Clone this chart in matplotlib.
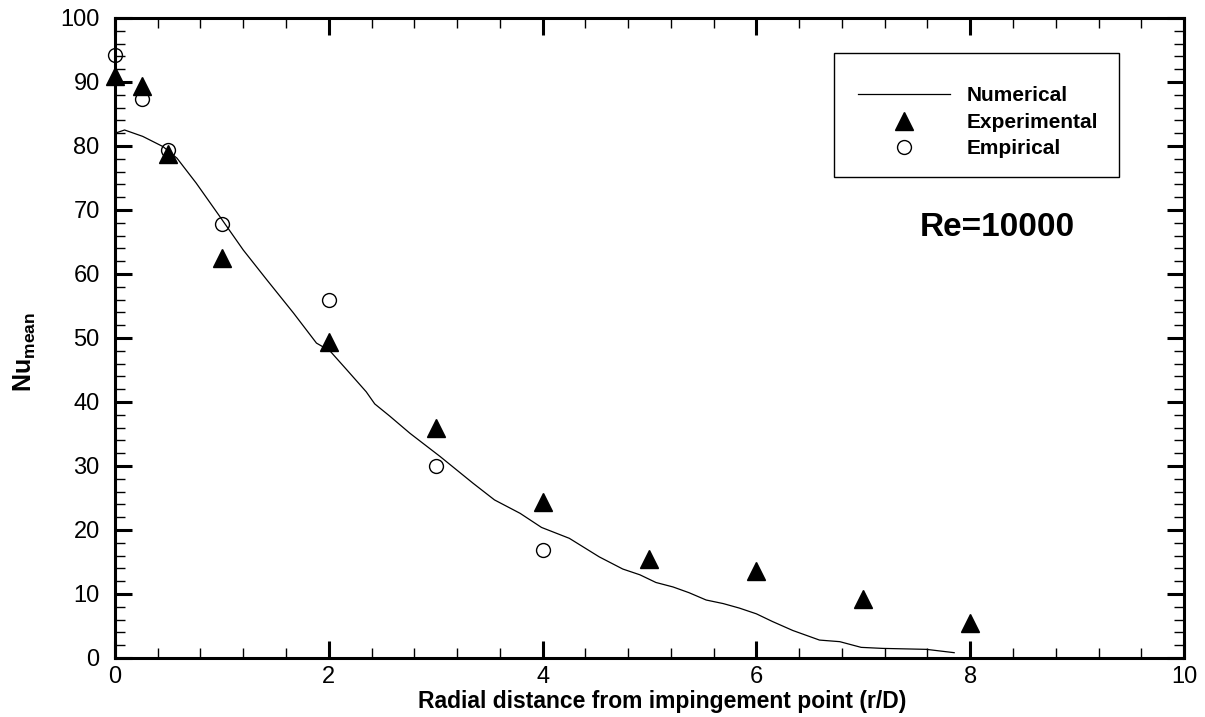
import matplotlib
matplotlib.use("Agg")
import matplotlib.pyplot as plt
from matplotlib.ticker import MultipleLocator
from matplotlib.patches import Rectangle

plt.rcParams['font.family'] = ['Liberation Sans', 'DejaVu Sans']
plt.rcParams['mathtext.fontset'] = 'custom'
plt.rcParams['mathtext.rm'] = 'Liberation Sans'
plt.rcParams['mathtext.bf'] = 'Liberation Sans:bold'

# Numerical (CFD) curve
num_x = [0.02, 0.09, 0.26, 0.45, 0.58, 0.76, 0.98, 1.20, 1.42, 1.67, 1.885, 2.01,
         2.17, 2.35, 2.43, 2.57, 2.76, 3.04, 3.35, 3.55, 3.79, 3.99, 4.25, 4.53,
         4.75, 4.91, 5.06, 5.22, 5.37, 5.53, 5.69, 5.84, 6.00, 6.15, 6.34, 6.59,
         6.78, 6.98, 7.18, 7.59, 7.85]
num_y = [82.1, 82.5, 81.5, 79.9, 78.1, 74.2, 69.0, 63.75, 59.1, 53.9, 49.2, 48.0,
         45.0, 41.6, 39.7, 37.8, 35.1, 31.5, 27.3, 24.7, 22.6, 20.4, 18.7, 15.8,
         13.9, 13.0, 11.8, 11.1, 10.2, 9.06, 8.5, 7.8, 6.9, 5.7, 4.3, 2.8,
         2.55, 1.66, 1.5, 1.35, 0.83]

# Experimental data
exp_x = [0, 0.25, 0.5, 1, 2, 3, 4, 5, 6, 7, 8]
exp_y = [90.9, 89.3, 78.8, 62.5, 49.3, 35.9, 24.3, 15.4, 13.6, 9.2, 5.5]

# Empirical correlation
emp_x = [0, 0.25, 0.5, 1, 2, 3, 4]
emp_y = [94.2, 87.3, 79.4, 67.8, 56.0, 30.0, 16.8]

fig = plt.figure(figsize=(12.05, 7.17), dpi=100)
ax = fig.add_axes([0.0954, 0.0823, 0.8872, 0.8926])

ax.plot(num_x, num_y, color='black', lw=0.9, label='Numerical')
ax.plot(exp_x, exp_y, linestyle='none', marker='^', color='black', markersize=12.5,
        label='Experimental', clip_on=False, zorder=4)
ax.plot(emp_x, emp_y, linestyle='none', marker='o', markerfacecolor='none',
        markeredgecolor='black', markeredgewidth=1.0, markersize=10,
        label='Empirical', clip_on=False, zorder=5)

ax.set_xlim(0, 10)
ax.set_ylim(0, 100)
ax.xaxis.set_major_locator(MultipleLocator(2))
ax.xaxis.set_minor_locator(MultipleLocator(0.4))
ax.yaxis.set_major_locator(MultipleLocator(10))
ax.yaxis.set_minor_locator(MultipleLocator(2))

for s in ax.spines.values():
    s.set_linewidth(2.2)

ax.tick_params(which='both', direction='in', top=True, right=True, labelsize=17)
ax.tick_params(which='major', length=12, width=2.2)
ax.tick_params(which='minor', length=7, width=1.0)
ax.tick_params(axis='x', which='major', pad=5.5)
ax.tick_params(axis='y', which='major', pad=11)

ax.set_xlabel('Radial distance from impingement point (r/D)', fontsize=16.5,
              fontweight='bold')
ax.xaxis.set_label_coords(0.512, -0.050)
ax.set_ylabel(r'$\mathbf{Nu}_{\mathbf{mean}}$', fontsize=18)
ax.yaxis.set_label_coords(-0.072, 0.478)

# legend frame drawn separately to match proportions
ax.add_patch(Rectangle((0.6726, 0.7516), 0.9392 - 0.6726, 0.9453 - 0.7516,
                       transform=ax.transAxes, fill=True, facecolor='white',
                       edgecolor='black', lw=1.0, zorder=6))
leg = ax.legend(loc='upper left', bbox_to_anchor=(0.695, 0.893), borderaxespad=0,
                frameon=False, handlelength=4.4, handletextpad=0.8, borderpad=0,
                labelspacing=0.36, prop={'weight': 'bold', 'size': 15})
leg.set_zorder(7)

ax.text(0.825, 0.673, 'Re=10000', transform=ax.transAxes, fontsize=24,
        fontweight='bold', ha='center', va='center')

fig.savefig('out.png', dpi=100)
